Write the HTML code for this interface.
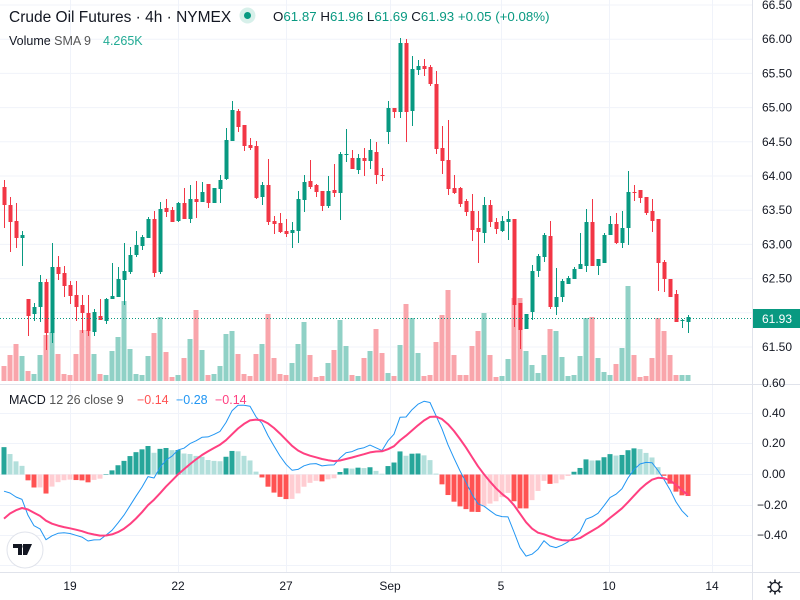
<!DOCTYPE html>
<html><head><meta charset="utf-8"><style>
html,body{margin:0;padding:0;background:#fff;width:800px;height:600px;overflow:hidden}
svg{display:block;font-family:"Liberation Sans",sans-serif}
</style></head><body>
<svg id="c" width="800" height="600" xmlns="http://www.w3.org/2000/svg"></svg>
<script>
var D=[
"R 187 205 180 228","R 205 222 197 252","R 221 238 203 248","G 235 238 231 266","R 299 316 299 336",
"G 307 314 303 321","G 282 307 275 322","R 282 333 279 350","G 267 333 243 343","R 267 274 256 280",
"R 273 286 266 297","R 285 296 281 304","R 295 307 281 321","R 305 313 295 333","R 313 331 295 336",
"G 312 332 309 336","R 316 320 299 320","G 299 321 298 324","G 296 299 263 299","G 279 297 267 297",
"G 271 280 243 305","G 255 272 247 274","G 245 255 231 257","G 237 246 235 250","G 219 238 217 238",
"R 219 273 211 277","G 209 272 202 274","R 208 212 199 217","R 210 222 207 222","G 203 221 202 222",
"R 203 219 188 219","G 199 219 185 223","R 199 202 181 218","G 192 202 182 202","R 184 203 184 208",
"G 188 203 188 203","G 180 189 175 203","G 140 179 128 180","G 110 141 101 141","R 111 127 109 132",
"R 125 146 125 151","R 145 148 138 150","R 146 198 141 199","G 185 197 182 205","R 185 222 159 225",
"R 221 224 216 234","R 223 232 213 233","R 231 234 219 237","G 230 233 222 248","G 199 231 191 243",
"G 182 200 175 212","R 181 187 160 189","R 185 192 184 197","R 191 206 191 211","G 191 206 176 208",
"R 190 193 164 197","G 154 193 152 220","G 154 155 129 162","R 158 169 150 169","G 158 170 154 174",
"R 158 161 148 176","G 150 161 139 169","R 152 175 142 184","R 175 176 168 181","G 108 132 101 144",
"R 108 112 108 118","G 43 112 38 118","R 43 112 39 142","G 69 111 56 126","G 66 70 60 75",
"R 66 69 59 76","R 67 84 65 86","R 84 149 71 154","R 148 161 126 174","R 160 189 120 195",
"R 188 193 175 194","R 188 204 187 207","R 201 212 199 216","R 211 230 194 241","R 228 232 211 263",
"G 205 233 197 243","R 205 222 200 227","R 222 229 218 234","G 221 231 216 232","G 219 222 211 240",
"R 219 305 219 327","R 303 330 303 349","G 314 329 314 329","G 271 312 265 320","G 256 271 254 277",
"G 235 257 233 262","R 236 307 221 309","G 297 307 268 315","G 281 297 279 302","G 278 284 276 284",
"G 269 279 267 279","G 264 269 233 269","G 222 266 209 272","R 222 266 199 266","G 259 266 259 275",
"G 235 263 233 263","G 224 235 216 235","R 224 243 213 244","G 228 243 211 248","G 192 228 171 245",
"R 192 193 185 201","R 190 198 190 203","R 197 213 197 215","R 211 221 199 232","R 219 263 219 291",
"R 262 279 260 292","R 279 297 279 297","R 294 322 290 322","G 320 321 319 328","G 317 322 315 333"];
var V=[366,355,344,356,371,374,355,335,332,354,374,375,354,330,330,354,374,375,351,337,301,349,374,375,356,333,317,352,377,375,358,339,310,350,375,374,366,334,331,354,374,376,354,344,314,358,374,375,363,344,322,355,377,376,363,350,320,346,375,376,358,351,329,353,373,376,345,304,318,353,376,375,342,315,290,355,375,375,346,331,313,355,377,376,359,298,298,351,365,373,355,329,331,357,376,375,356,318,317,358,372,375,364,348,286,355,377,376,358,318,331,355,375,375,375];
var s='',W=752,UP='#089981',DN='#f23645';
function L(x1,y1,x2,y2,c,w,d){return '<line x1="'+x1+'" y1="'+y1+'" x2="'+x2+'" y2="'+y2+'" stroke="'+c+'" stroke-width="'+(w||1)+'"'+(d?' stroke-dasharray="'+d+'"':'')+'/>';}
function T(x,y,t,c,sz,a){return '<text x="'+x+'" y="'+y+'" fill="'+(c||'#131722')+'" font-size="'+(sz||12)+'"'+(a?' text-anchor="'+a+'"':'')+'>'+t+'</text>';}
function py(p){return 176-(p-64)*68.4;}
var pl=[66.5,66,65.5,65,64.5,64,63.5,63,62.5,62,61.5];
pl.forEach(function(p){s+=L(0,py(p),W,py(p),'#f0f3fa');});
[413,443,474,505,535,565].forEach(function(y){s+=L(0,y+0.5,W,y+0.5,'#f0f3fa');});
var tx=[[70,'19'],[178,'22'],[286,'27'],[390,'Sep'],[501,'5'],[609,'10'],[712,'14']];
tx.forEach(function(t){s+=L(t[0]+.5,0,t[0]+.5,572,'#f0f3fa');});
s+=L(0,384.5,800,384.5,'#e0e3eb');s+=L(0,572.5,800,572.5,'#e0e3eb');s+=L(752.5,0,752.5,600,'#e0e3eb');
V.forEach(function(v,i){var g=D[i][0]=='G';var x=4+6*i;s+='<rect x="'+(x-2.5)+'" y="'+v+'" width="5" height="'+(381-v)+'" fill="'+(g?'#90d1c6':'#f9a5ab')+'"/>';});
var closes=[];
D.forEach(function(r,i){var a=r.split(' '),g=a[0]=='G',t=+a[1],b=+a[2],h=+a[3],l=+a[4],x=4+6*i,c=g?UP:DN;
 s+=L(x+.5,h,x+.5,l,c,1);s+='<rect x="'+(x-1.5)+'" y="'+t+'" width="4" height="'+Math.max(1,b-t)+'" fill="'+c+'"/>';
 var cy=g?t:b;closes.push(64-(cy-176)/68.4);});
s+=L(0,318.5,W,318.5,UP,1,'1 2');
var e12=closes[0],e26=closes[0]+0.11,sig=-0.29,k12=2/13,k26=2/27,k9=0.2,M=[],S=[],H=[];
closes.forEach(function(c,i){if(i>0){e12=e12+k12*(c-e12);e26=e26+k26*(c-e26);}var m=e12-e26;if(i>0)sig=sig+k9*(m-sig);M.push(m);S.push(sig);H.push(m-sig);});
function my(v){return 474.5-v*152;}
H.forEach(function(h,i){var x=4+6*i,p=i?H[i-1]:h,col;if(h>=0)col=h>=p?'#26a69a':'#b2dfdb';else col=h<p?'#ff5252':'#ffcdd2';
 var y1=my(Math.max(h,0)),y2=my(Math.min(h,0));s+='<rect x="'+(x-2.5)+'" y="'+y1+'" width="5" height="'+Math.max(0.5,y2-y1)+'" fill="'+col+'"/>';});
function path(a,c,w){var d='';a.forEach(function(v,i){d+=(i?'L':'M')+(4+6*i)+' '+my(v).toFixed(1);});return '<path d="'+d+'" fill="none" stroke="'+c+'" stroke-width="'+w+'" stroke-linejoin="round"/>';}
s+=path(M,'#2196f3',1);s+=path(S,'#ff4081',2);
var pls=[['66.50',66.5],['66.00',66],['65.50',65.5],['65.00',65],['64.50',64.5],['64.00',64],['63.50',63.5],['63.00',63],['62.50',62.5],['61.50',61.5]];
pls.forEach(function(p){s+=T(762,py(p[1])+4,p[0]);});
s+=T(762,387,'0.60');
s+='<rect x="753" y="309" width="47" height="19" fill="'+UP+'"/>'+T(762,323,'61.93','#fff');
[['0.40',413],['0.20',443],['0.00',474],['−0.20',505],['−0.40',535]].forEach(function(p){s+=T(p[0][0]=='−'?757:762,p[1]+4,p[0]);});
tx.forEach(function(t){s+=T(t[0],590,t[1],'#131722',12,'middle');});
s+='<circle cx="775" cy="587" r="4.5" fill="none" stroke="#131722" stroke-width="1.3"/>';
for(var a=0;a<8;a++){var an=a*Math.PI/4;s+=L(775+5*Math.cos(an),587+5*Math.sin(an),775+7.5*Math.cos(an),587+7.5*Math.sin(an),'#131722',1.6);}
s+='<circle cx="25" cy="550" r="18" fill="#fff" stroke="#e0e3eb"/>';
s+='<path d="M13 544h9v11h-4v-7h-5z M23 544h9l-5 11h-4z" fill="#131722"/><circle cx="24.5" cy="546.5" r="2" fill="#131722"/>';
s+=T(9,22,'Crude Oil Futures · 4h · NYMEX','#131722',15.5);
s+='<circle cx="247.5" cy="15.5" r="8" fill="#d7f0ea"/><circle cx="247.5" cy="15.5" r="3.5" fill="'+UP+'"/>';
s+='<text x="273" y="21" font-size="13.3" fill="#131722">O<tspan fill="'+UP+'">61.87</tspan> H<tspan fill="'+UP+'">61.96</tspan> L<tspan fill="'+UP+'">61.69</tspan> C<tspan fill="'+UP+'">61.93</tspan> <tspan fill="'+UP+'">+0.05 (+0.08%)</tspan></text>';
s+='<text x="9" y="45" font-size="12.5" fill="#131722">Volume <tspan fill="#555">SMA 9</tspan><tspan x="103" fill="#22ab94">4.265K</tspan></text>';
s+='<text x="9" y="404" font-size="12.5" fill="#131722">MACD <tspan fill="#555">12 26 close 9</tspan><tspan x="137" fill="#ff5252">−0.14</tspan><tspan x="176" fill="#2196f3">−0.28</tspan><tspan x="215" fill="#ff4081">−0.14</tspan></text>';
document.getElementById('c').innerHTML=s;
</script>
</body></html>
